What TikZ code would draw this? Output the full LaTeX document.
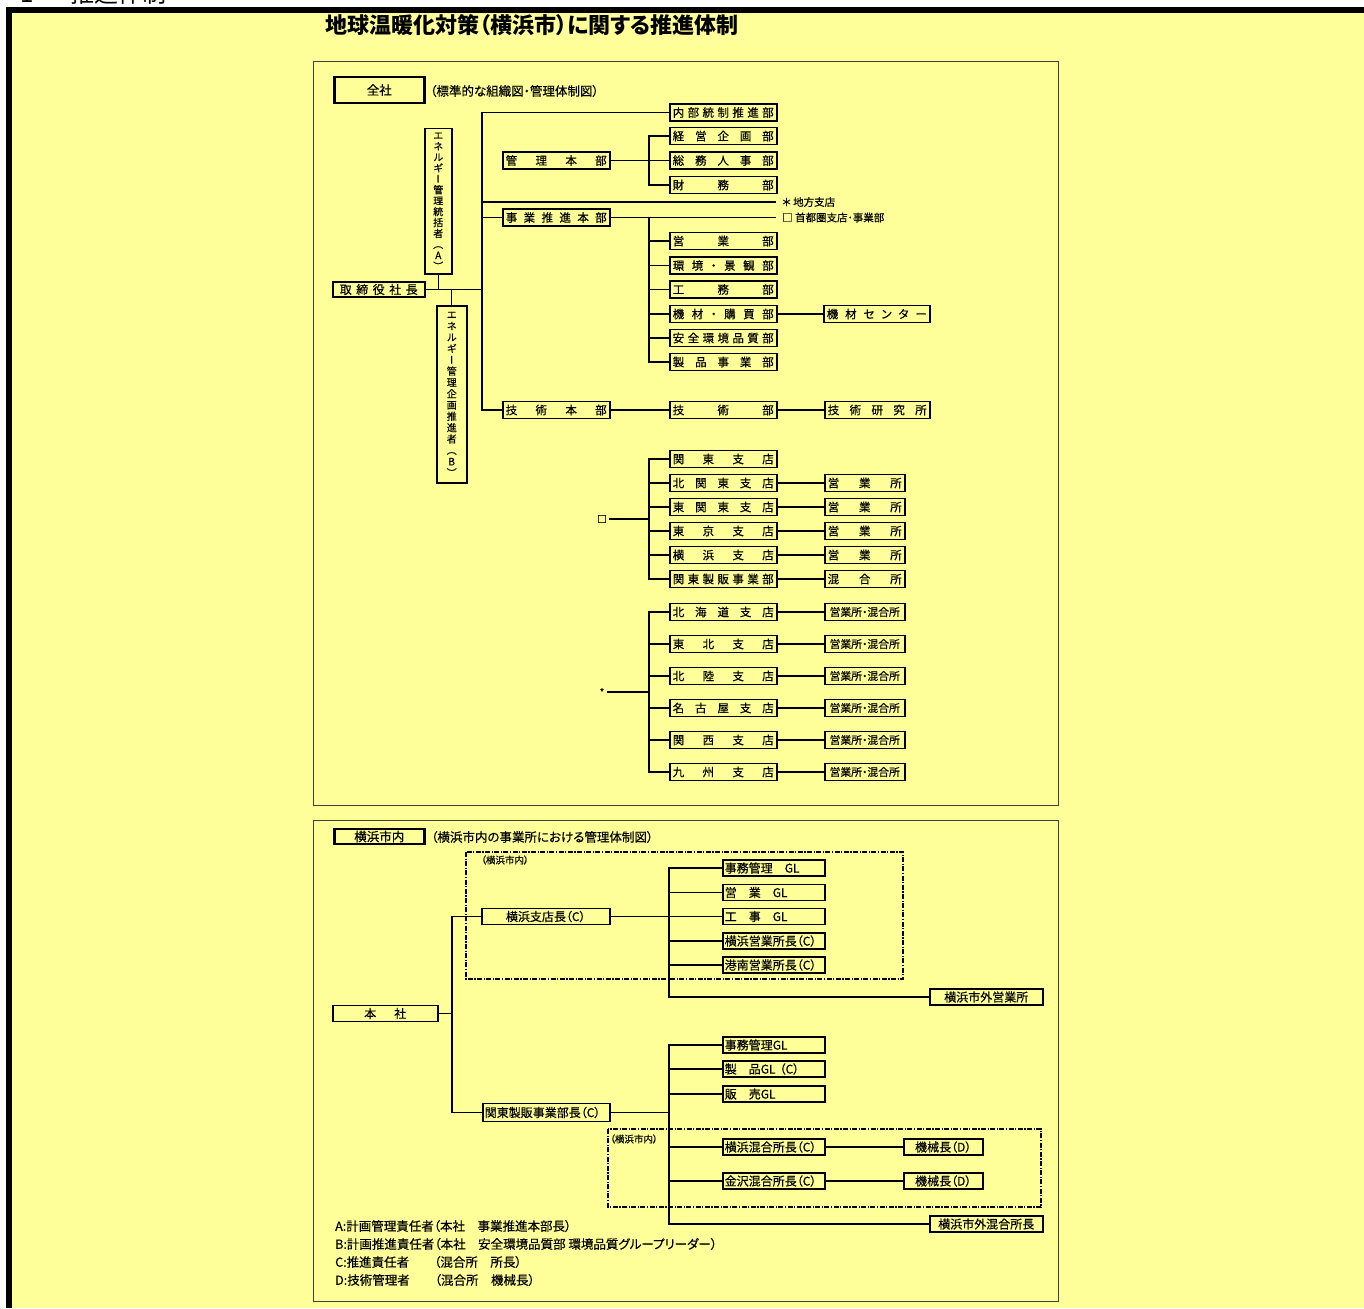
\documentclass[tikz,border=0pt]{standalone}
\usepackage{fontspec}
\setmainfont{Noto Sans CJK JP}[RawFeature=+palt]
\newfontfamily\jpm{Noto Sans CJK JP}[RawFeature=+palt, FakeBold=0.4]
\newfontfamily\vjp{Noto Sans CJK JP}[RawFeature=+vert, FakeBold=0.4]
\usetikzlibrary{calc}
\definecolor{bgy}{RGB}{255,255,153}
\ExplSyntaxOn
\NewDocumentCommand\dist{mm}{\makebox[#1]{\tl_map_inline:nn{#2}{##1\hfill}\unskip}}
\ExplSyntaxOff
\tikzset{
 ln/.style={line width=1.3pt},
 bx/.style={draw, line width=1.5pt, inner sep=0pt, anchor=west, minimum height=17pt, font=\jpm\fontsize{11.5}{11.5}\selectfont},
 ub/.style={bx, minimum width=107pt},
 fb/.style={bx, minimum width=80pt},
 lb/.style={bx, font=\jpm\fontsize{12}{12}\selectfont, minimum height=16pt},
 ll/.style={lb, inner xsep=2pt, text width=98pt, align=left},
 vb/.style={draw, line width=1.5pt, inner sep=0pt, anchor=north west, align=center},
 note/.style={inner sep=0pt, anchor=west, font=\jpm\fontsize{12.5}{12.5}\selectfont},
 sm/.style={inner sep=0pt, anchor=west, font=\jpm\fontsize{10.5}{10.5}\selectfont},
 tn/.style={inner sep=0pt, anchor=west, font=\jpm\fontsize{9.5}{9.5}\selectfont},
 dsh/.style={line width=1.6pt, dash pattern=on 5pt off 1.5pt on 1.2pt off 1.5pt},
 panel/.style={draw=black!75, line width=1pt},
 thk/.style={line width=2.6pt},
}
\begin{document}
\begin{tikzpicture}[x=1pt,y=-1pt]
\useasboundingbox (0,0) rectangle (1364,1308);
\fill[white] (0,0) rectangle (1364,1308);
\fill[black] (6,7) rectangle (1364,1308);
\fill[bgy] (12,13) rectangle (1364,1308);
\node[anchor=base west, inner sep=0pt, font=\fontsize{24}{24}\selectfont] (hdr) at (20,2.5) {\makebox[50pt][l]{1}推進体制};
\node[inner sep=0pt, font=\bfseries\fontsize{22}{22}\selectfont] (title) at (532,25) {地球温暖化対策（横浜市）に関する推進体制};
\draw[panel] (313,62) rectangle (1058,805);
\draw[panel] (313,820) rectangle (1058,1301);
% ---------- upper panel ----------
\node[bx, thk, minimum width=90pt, minimum height=26pt, font=\jpm\fontsize{12.5}{12.5}\selectfont] (zensha) at (333,90) {全社};
\node[note] (note1) at (430,91) {（標準的な組織図・管理体制図）};
\node[vb, minimum width=27pt, minimum height=145pt, font=\vjp\fontsize{10}{10.9}\selectfont] (abox) at (424,128) {エ\\ネ\\ル\\ギ\\ー\\管\\理\\統\\括\\者\\（\\A\\）};
\node[vb, minimum width=30pt, minimum height=177pt, font=\vjp\fontsize{10}{11.3}\selectfont] (bbox) at (436,305) {エ\\ネ\\ル\\ギ\\ー\\管\\理\\企\\画\\推\\進\\者\\（\\B\\）};
\node[bx, minimum width=92pt, minimum height=15pt, font=\jpm\fontsize{12}{12}\selectfont] (torishimari) at (332,289.5) {\dist{78pt}{取締役社長}};
\node[ub] (kanri) at (502,160.5) {\dist{101pt}{管理本部}};
\node[ub] (jigyo) at (502,217.5) {\dist{101pt}{事業推進本部}};
\node[ub] (gijutsu) at (502,410) {\dist{101pt}{技術本部}};
\node[ub] (naibu) at (669,112.5) {\dist{101pt}{内部統制推進部}};
\node[ub] (keiei) at (669,136) {\dist{101pt}{経営企画部}};
\node[ub] (somu) at (669,160.5) {\dist{101pt}{総務人事部}};
\node[ub] (zaimu) at (669,185) {\dist{101pt}{財務部}};
\node[ub] (eigyo) at (669,241) {\dist{101pt}{営業部}};
\node[ub] (kankyo) at (669,265.5) {\dist{101pt}{環境・景観部}};
\node[ub] (koumu) at (669,289.5) {\dist{101pt}{工務部}};
\node[ub] (kizai) at (669,314) {\dist{101pt}{機材・購買部}};
\node[ub] (anzen) at (669,338) {\dist{101pt}{安全環境品質部}};
\node[ub] (seihin) at (669,362) {\dist{101pt}{製品事業部}};
\node[bx, minimum width=106pt] (kizaicenter) at (823,314) {\dist{100pt}{機材センター}};
\node[ub] (gijutsubu) at (669,410) {\dist{101pt}{技術部}};
\node[bx, minimum width=105pt] (gijutsuken) at (824,410) {\dist{99pt}{技術研究所}};
\node[ub] (kanto) at (669,459) {\dist{101pt}{関東支店}};
\node[ub] (kitakanto) at (669,483) {\dist{101pt}{北関東支店}};
\node[ub] (higashikanto) at (669,507) {\dist{101pt}{東関東支店}};
\node[ub] (tokyo) at (669,531) {\dist{101pt}{東京支店}};
\node[ub] (yokohama) at (669,555) {\dist{101pt}{横浜支店}};
\node[ub] (kantoseihan) at (669,579) {\dist{101pt}{関東製販事業部}};
\node[fb] (es1) at (824,483) {\dist{74pt}{営業所}};
\node[fb] (es2) at (824,507) {\dist{74pt}{営業所}};
\node[fb] (es3) at (824,531) {\dist{74pt}{営業所}};
\node[fb] (es4) at (824,555) {\dist{74pt}{営業所}};
\node[fb] (kg) at (824,579) {\dist{74pt}{混合所}};
\node[ub] (hokkaido) at (669,612) {\dist{101pt}{北海道支店}};
\node[ub] (tohoku) at (669,644) {\dist{101pt}{東北支店}};
\node[ub] (hokuriku) at (669,676) {\dist{101pt}{北陸支店}};
\node[ub] (nagoya) at (669,708) {\dist{101pt}{名古屋支店}};
\node[ub] (kansai) at (669,740) {\dist{101pt}{関西支店}};
\node[ub] (kyushu) at (669,772) {\dist{101pt}{九州支店}};
\foreach \i/\y in {1/612,2/644,3/676,4/708,5/740,6/772}
  \node[fb, font=\jpm\fontsize{10.8}{10.8}\selectfont] (ek\i) at (824,\y) {営業所・混合所};
% upper connectors
\coordinate (t) at (482,289.5);
\draw[ln] (naibu.west) -| (t) |- (gijutsu.west);
\draw[ln] (torishimari.east) -- (t);
\draw[ln] (t |- jigyo.west) -- (jigyo.west);
\coordinate (chihoE) at (776,202);
\draw[ln] (t |- chihoE) -- (chihoE);
\node[sm] (chiho) at (782,202) {＊ 地方支店};
\coordinate (shutoE) at (776,217.5);
\draw[ln] (jigyo.east) -- (shutoE);
\node[sm] (shuto) at (782,217.5) {□ 首都圏支店･事業部};
\draw[ln] (abox.south) -- (abox.south |- torishimari.east);
\draw[ln] (bbox.north) -- (bbox.north |- torishimari.east);
\coordinate (k1) at (649,160.5);
\draw[ln] (kanri.east) -- (somu.west);
\draw[ln] (keiei.west) -| (k1) |- (zaimu.west);
\coordinate (j2) at (649,217.5);
\draw[ln] (j2) |- (seihin.west);
\foreach \n in {eigyo,kankyo,koumu,kizai,anzen} \draw[ln] (\n.west) -- (\n.west -| j2);
\draw[ln] (kizai.east) -- (kizaicenter.west);
\draw[ln] (gijutsu.east) -- (gijutsubu.west);
\draw[ln] (gijutsubu.east) -- (gijutsuken.west);
\node[tn, anchor=center] (sqlab) at (602,519) {□};
\coordinate (sq) at (649,519);
\draw[ln] ([xshift=2pt]sqlab.east) -- (sq);
\draw[ln] (kanto.west) -| (sq) |- (kantoseihan.west);
\foreach \n in {kitakanto,higashikanto,tokyo,yokohama} \draw[ln] (\n.west) -- (\n.west -| sq);
\foreach \a/\b in {kitakanto/es1,higashikanto/es2,tokyo/es3,yokohama/es4,kantoseihan/kg} \draw[ln] (\a.east) -- (\b.west);
\node[tn, anchor=center] (astlab) at (602,692) {*};
\coordinate (ast) at (649,692);
\draw[ln] ([xshift=3pt]astlab.east) -- (ast);
\draw[ln] (hokkaido.west) -| (ast) |- (kyushu.west);
\foreach \n in {tohoku,hokuriku,nagoya,kansai} \draw[ln] (\n.west) -- (\n.west -| ast);
\foreach \a/\b in {hokkaido/ek1,tohoku/ek2,hokuriku/ek3,nagoya/ek4,kansai/ek5,kyushu/ek6} \draw[ln] (\a.east) -- (\b.west);
% ---------- lower panel ----------
\node[lb, thk, minimum width=90pt, minimum height=15pt, font=\jpm\fontsize{12.5}{12.5}\selectfont] (ynai) at (333,836.5) {横浜市内};
\node[note] (note2) at (431,837) {（横浜市内の事業所における管理体制図）};
\node[lb, minimum width=128pt] (shisha) at (481,916.5) {横浜支店長（C）};
\node[lb, minimum width=105pt] (honsha) at (332,1013.5) {\dist{42pt}{本社}};
\node[ll, text width=123pt, minimum height=18pt] (kscc) at (482,1112.5) {関東製販事業部長（C）};
\node[ll] (jimu1) at (722,868) {事務管理　GL};
\node[ll] (eigyogl) at (722,892.5) {営　業　GL};
\node[ll] (kojigl) at (722,916.5) {工　事　GL};
\node[ll] (ygsho) at (722,941) {横浜営業所長（C）};
\node[ll] (konan) at (722,965) {港南営業所長（C）};
\node[lb, minimum width=113pt] (gaieigyo) at (929,997) {横浜市外営業所};
\node[ll] (jimu2) at (722,1045) {事務管理GL};
\node[ll] (seihingl) at (722,1069) {製　品GL （C）};
\node[ll] (hanbai) at (722,1094) {販　売GL};
\node[ll] (ykongo) at (722,1147) {横浜混合所長（C）};
\node[ll] (kkongo) at (722,1181) {金沢混合所長（C）};
\node[lb, minimum width=79pt] (kikai1) at (903,1147) {機械長（D）};
\node[lb, minimum width=79pt] (kikai2) at (903,1181) {機械長（D）};
\node[lb, minimum width=113pt] (gaikongo) at (929,1224) {横浜市外混合所長};
\coordinate (h) at (452,1013.5);
\draw[ln] (honsha.east) -- (h);
\draw[ln] (shisha.west) -| (h) |- (kscc.west);
\coordinate (s1) at (669,916.5);
\draw[ln] (shisha.east) -- (kojigl.west);
\draw[ln] (jimu1.west) -| (s1) |- (gaieigyo.west);
\foreach \n in {eigyogl,ygsho,konan} \draw[ln] (\n.west) -- (\n.west -| s1);
\coordinate (s2) at (669,1112.5);
\draw[ln] (kscc.east) -- (s2);
\draw[ln] (jimu2.west) -| (s2) |- (gaikongo.west);
\foreach \n in {seihingl,hanbai,ykongo,kkongo} \draw[ln] (\n.west) -- (\n.west -| s2);
\draw[ln] (ykongo.east) -- (kikai1.west);
\draw[ln] (kkongo.east) -- (kikai2.west);
\draw[dsh] (466,852) rectangle (903,979);
\node[tn] (dn1) at (481,860) {（横浜市内）};
\draw[dsh] (608,1129) rectangle (1041,1207);
\node[tn] (dn2) at (610,1139) {（横浜市内）};
\node[note] (la) at (335,1226) {A:計画管理責任者（本社　事業推進本部長）};
\node[note] (lbb) at (335,1244) {B:計画推進責任者（本社　安全環境品質部 環境品質グループリーダー）};
\node[note] (lc) at (335,1262) {C:推進責任者　　（混合所　所長）};
\node[note] (ld) at (335,1280) {D:技術管理者　　（混合所　機械長）};
\end{tikzpicture}
\end{document}
